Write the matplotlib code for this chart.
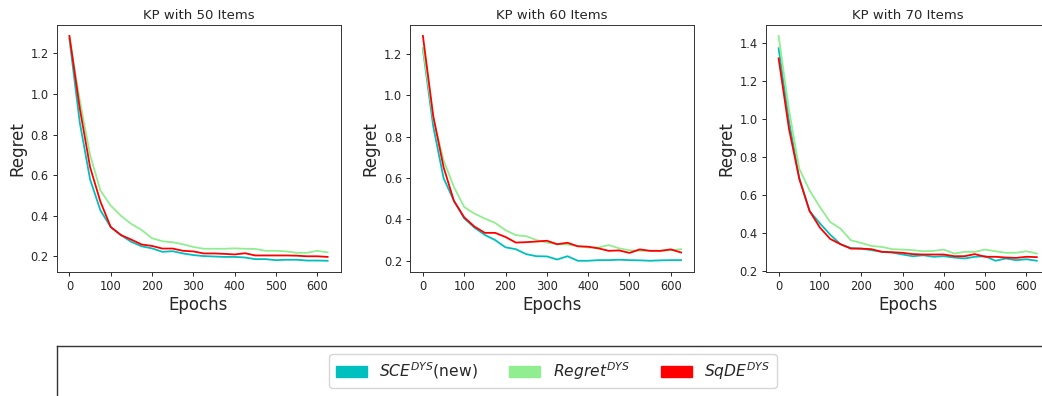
import matplotlib
matplotlib.use("Agg")
import matplotlib.pyplot as plt
from matplotlib.patches import Patch

# Training epochs at which regret was evaluated
epochs = [0, 25, 50, 75, 100, 125, 150, 175, 200, 225, 250, 275, 300,
          325, 350, 375, 400, 425, 450, 475, 500, 525, 550, 575, 600, 625]

titles = ["KP with 50 Items", "KP with 60 Items", "KP with 70 Items"]
series_labels = [r"$SCE^{DYS}$(new)", r"$Regret^{DYS}$", r"$SqDE^{DYS}$"]
series_colors = ["c", "lightgreen", "red"]

# KP with 50 items
sce_50 = [1.27, 0.86, 0.58, 0.427, 0.345, 0.305, 0.272, 0.25, 0.24, 0.223,
          0.226, 0.215, 0.207, 0.202, 0.20, 0.198, 0.198, 0.195, 0.187, 0.187,
          0.182, 0.184, 0.184, 0.18, 0.18, 0.179]
regret_50 = [1.28, 0.97, 0.70, 0.525, 0.45, 0.40, 0.36, 0.33, 0.29, 0.275,
             0.27, 0.26, 0.247, 0.238, 0.238, 0.238, 0.24, 0.238, 0.237, 0.228,
             0.228, 0.225, 0.218, 0.218, 0.228, 0.22]
sqde_50 = [1.285, 0.93, 0.64, 0.47, 0.345, 0.305, 0.283, 0.259, 0.252, 0.239,
           0.239, 0.228, 0.225, 0.215, 0.215, 0.213, 0.21, 0.216, 0.205, 0.205,
           0.205, 0.205, 0.204, 0.201, 0.201, 0.198]

# KP with 60 items
sce_60 = [1.224, 0.85, 0.60, 0.49, 0.405, 0.36, 0.325, 0.30, 0.265, 0.256,
          0.232, 0.222, 0.221, 0.206, 0.222, 0.20, 0.20, 0.203, 0.203, 0.205,
          0.203, 0.202, 0.20, 0.202, 0.203, 0.203]
regret_60 = [1.23, 0.89, 0.686, 0.557, 0.46, 0.428, 0.404, 0.383, 0.348, 0.324,
             0.319, 0.30, 0.288, 0.28, 0.279, 0.271, 0.264, 0.264, 0.276, 0.26,
             0.251, 0.248, 0.248, 0.248, 0.251, 0.256]
sqde_60 = [1.288, 0.90, 0.653, 0.49, 0.41, 0.365, 0.335, 0.335, 0.315, 0.288,
           0.29, 0.293, 0.297, 0.28, 0.287, 0.27, 0.268, 0.26, 0.248, 0.25,
           0.238, 0.255, 0.248, 0.248, 0.255, 0.24]

# KP with 70 items
sce_70 = [1.373, 0.99, 0.69, 0.515, 0.45, 0.39, 0.34, 0.32, 0.317, 0.309,
          0.30, 0.296, 0.286, 0.277, 0.282, 0.274, 0.277, 0.27, 0.265, 0.274,
          0.277, 0.253, 0.265, 0.256, 0.261, 0.253]
regret_70 = [1.438, 1.05, 0.738, 0.624, 0.536, 0.457, 0.422, 0.361, 0.347, 0.331,
             0.326, 0.314, 0.312, 0.309, 0.303, 0.305, 0.312, 0.291, 0.30, 0.30,
             0.312, 0.303, 0.295, 0.295, 0.303, 0.291]
sqde_70 = [1.32, 0.95, 0.685, 0.515, 0.428, 0.368, 0.34, 0.317, 0.317, 0.314,
           0.30, 0.298, 0.295, 0.288, 0.286, 0.286, 0.286, 0.277, 0.277, 0.288,
           0.274, 0.274, 0.27, 0.268, 0.274, 0.272]

panels = [
    (sce_50, regret_50, sqde_50),
    (sce_60, regret_60, sqde_60),
    (sce_70, regret_70, sqde_70),
]

W, H = 1042, 396
fig = plt.figure(figsize=(W / 100, H / 100), dpi=100)

text_color = "#262626"
ax_lefts = [56.5, 410.0, 765.7]
ax_width = 284.0
ax_top, ax_bottom = 24.7, 272.0

for left, title, data in zip(ax_lefts, titles, panels):
    ax = fig.add_axes([left / W, 1 - ax_bottom / H, ax_width / W, (ax_bottom - ax_top) / H])
    for values, color in zip(data, series_colors):
        ax.plot(epochs, values, color=color, linewidth=1.3)
    ax.set_title(title, fontsize=9.5, color=text_color, pad=4)
    ax.set_xlabel("Epochs", fontsize=12, color=text_color, labelpad=2)
    ax.set_ylabel("Regret", fontsize=12, color=text_color, labelpad=3)
    ax.set_xticks([0, 100, 200, 300, 400, 500, 600])
    ax.tick_params(labelsize=8.3, length=2.9, width=0.7, colors=text_color, pad=2.8)
    for sp in ax.spines.values():
        sp.set_linewidth(0.7)
        sp.set_color("#333333")

# Legend panel below the three plots (runs off the right and bottom edges)
leg_left, leg_right, leg_top = 56.5, 1049.5, 346.0
lax = fig.add_axes([leg_left / W, -0.5 / H, (leg_right - leg_left) / W, (H - leg_top + 0.5) / H])
lax.set_xticks([])
lax.set_yticks([])
for sp in lax.spines.values():
    sp.set_linewidth(1.0)
    sp.set_color("#333333")
lax.spines["bottom"].set_color("#dddddd")

handles = [Patch(facecolor=c, edgecolor=c) for c in series_colors]
leg = lax.legend(handles, series_labels, loc="upper center", ncol=3,
                 fontsize=11.2, borderaxespad=0.5)
for t in leg.get_texts():
    t.set_color(text_color)

fig.savefig("out.png", dpi=100)
